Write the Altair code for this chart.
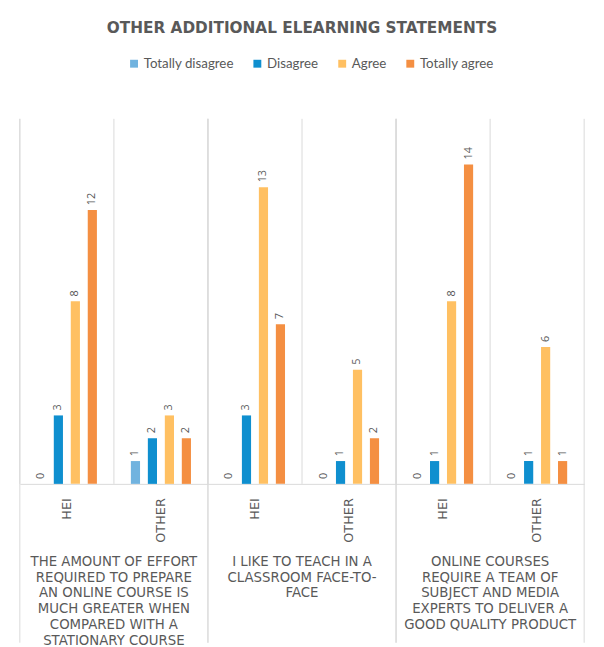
import altair as alt
import pandas as pd

# ---- data ----
statements = [
    "THE AMOUNT OF EFFORT\nREQUIRED TO PREPARE\nAN ONLINE COURSE IS\nMUCH GREATER WHEN\nCOMPARED WITH A\nSTATIONARY COURSE",
    "I LIKE TO TEACH IN A\nCLASSROOM FACE-TO-\nFACE",
    "ONLINE COURSES\nREQUIRE A TEAM OF\nSUBJECT AND MEDIA\nEXPERTS TO DELIVER A\nGOOD QUALITY PRODUCT",
]
groups = ["HEI", "OTHER"]
series = ["Totally disagree", "Disagree", "Agree", "Totally agree"]
colors = ["#71B3DF", "#0F8FCF", "#FFC062", "#F48F42"]

# order: S1-HEI, S1-OTHER, S2-HEI, S2-OTHER, S3-HEI, S3-OTHER
totally_disagree = [0, 1, 0, 0, 0, 0]
disagree = [3, 2, 3, 1, 1, 1]
agree = [8, 3, 13, 5, 8, 6]
totally_agree = [12, 2, 7, 2, 14, 1]

# ---- tables ----
keys = [f"{i + 1}|{g}" for i in range(len(statements)) for g in groups]
series_values = [totally_disagree, disagree, agree, totally_agree]
rows = []
for s, vals in zip(series, series_values):
    for k, v in zip(keys, vals):
        rows.append({"key": k, "series": s, "value": v})
df = pd.DataFrame(rows)
keys_df = pd.DataFrame({"key": keys})
stmt_df = pd.DataFrame({
    "label": statements,
    "first": [f"{i + 1}|{groups[0]}" for i in range(len(statements))],
    "mid": [f"{i + 1}|{groups[1]}" for i in range(len(statements))],
    "last": [f"{i + 1}|{groups[-1]}" for i in range(len(statements))],
})

W, H = 572, 370
TEXT = "#595959"
GRID = "#D9D9D9"

xscale = alt.Scale(domain=keys, paddingInner=0, paddingOuter=0)

minor = alt.Chart(keys_df).mark_rule(color=GRID, strokeWidth=1).encode(
    x=alt.X("key:N", scale=xscale, bandPosition=0, title=None),
    y=alt.value(0),
    y2=alt.value(H),
)
major_start = alt.Chart(stmt_df).mark_rule(color=GRID, strokeWidth=1).encode(
    x=alt.X("first:N", scale=xscale, bandPosition=0, title=None),
    y=alt.value(0),
    y2=alt.value(H + 161),
)
major_end = alt.Chart(stmt_df).mark_rule(color=GRID, strokeWidth=1).encode(
    x=alt.X("last:N", scale=xscale, bandPosition=1, title=None),
    y=alt.value(0),
    y2=alt.value(H + 161),
)

base = alt.Chart(df).encode(
    x=alt.X(
        "key:N",
        scale=xscale,
        sort=keys,
        title=None,
        axis=alt.Axis(
            labelExpr="split(datum.label, '|')[1]",
            labelAngle=270,
            labelPadding=14,
            labelFont="DejaVu Sans",
            labelFontSize=13,
            labelColor=TEXT,
            ticks=False,
            grid=False,
            domainColor=GRID,
        ),
    ),
    xOffset=alt.XOffset(
        "series:N",
        sort=series,
        scale=alt.Scale(domain=series, paddingInner=0.46, paddingOuter=1),
    ),
    y=alt.Y("value:Q", scale=alt.Scale(domain=[0, 16]), axis=None),
)

bars = base.mark_bar().encode(
    color=alt.Color(
        "series:N",
        scale=alt.Scale(domain=series, range=colors),
        legend=alt.Legend(
            title=None,
            orient="none",
            legendX=109,
            legendY=-63,
            direction="horizontal",
            symbolType="square",
            symbolSize=64,
            symbolStrokeWidth=0,
            labelFont="Lato",
            labelFontSize=13.5,
            labelColor=TEXT,
            labelOffset=3,
            columnPadding=17,
            padding=0,
        ),
    )
)

values = base.mark_text(
    angle=270, align="left", baseline="middle", dx=5,
    font="Open Sans", fontSize=11, color=TEXT,
).encode(text="value:Q")

stmt_text = alt.Chart(stmt_df).mark_text(
    align="center", baseline="top", lineBreak="\n", lineHeight=16,
    font="DejaVu Sans", fontSize=13.5, color=TEXT,
).encode(
    x=alt.X("mid:N", scale=xscale, bandPosition=0, title=None),
    y=alt.value(H + 72),
    text="label:N",
)

chart = alt.layer(minor, major_start, major_end, bars, values, stmt_text).properties(
    width=W,
    height=H,
    autosize=alt.AutoSizeParams(type="none"),
    padding={"left": 12, "top": 108, "right": 12, "bottom": 161},
    title=alt.TitleParams(
        "OTHER ADDITIONAL ELEARNING STATEMENTS",
        font="DejaVu Sans",
        fontSize=15.5,
        fontWeight="bold",
        color=TEXT,
        anchor="middle",
        offset=21,
    ),
).configure_view(strokeWidth=0)

chart.save("out.html", embed_options={"renderer": "svg", "actions": False})
